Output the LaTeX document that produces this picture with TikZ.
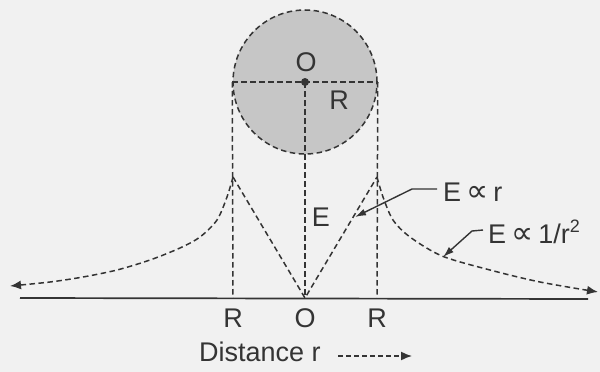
\documentclass[tikz,border=0pt]{standalone}
\usepackage{fontspec}
\setmainfont{Liberation Sans}
\newfontfamily\symfont{DejaVu Sans}
\usetikzlibrary{arrows.meta}
\definecolor{ink}{RGB}{52,52,52}
\definecolor{ballfill}{RGB}{198,198,198}
\definecolor{paper}{RGB}{241,241,241}
\begin{document}
\begin{tikzpicture}[x=1pt,y=-1pt,
  lbl/.style={font=\fontsize{27}{27}\selectfont, inner sep=0pt, text=ink},
  dsh/.style={draw=ink, line width=1.5pt, dash pattern=on 5.5pt off 3.5pt},
  fine/.style={draw=ink, line width=1.4pt},
  tipend/.style={-{Latex[length=11pt,width=9pt]}},
  leader/.style={fine, -{Latex[length=11pt,width=7pt]}}]
\useasboundingbox (0,0) rectangle (600,372);
\fill[paper] (0,0) rectangle (600,372);
% sphere
\node[circle, minimum size=144pt, inner sep=0pt, fill=ballfill, dsh] (ball) at (305,82) {};
\coordinate (O) at (305,82);
\coordinate (PL) at (233,177);
\coordinate (PR) at (377,177);
\coordinate (AO) at (305,298);
\coordinate (AL) at (233,298);
\coordinate (AR) at (377,298);
\coordinate (X0) at (20,298);
\coordinate (X1) at (588,299);
\draw[dsh] (ball.west) -- (ball.east);
\draw[dsh] (ball.west) -- (AL);
\draw[dsh] (ball.east) -- (AR);
\draw[dsh] (O) -- (AO);
\fill[ink] (O) circle (4pt);
% axis
\draw[ink, line width=1.7pt] (X0) -- (X1);
% E inside: linear part
\draw[dsh] (PL) -- (AO) -- (PR);
% outside: 1/r^2 curves
\draw[dsh, tipend] plot[smooth] coordinates {(233,177) (227,197) (217,220) (200,237) (180,248) (150,260) (117,270) (83,277) (50,282) (10,286)};
\draw[dsh, tipend] plot[smooth] coordinates {(377,177) (383,197) (393,220) (410,237) (442,256) (490,270) (540,282) (598,292)};
% labels
\node[lbl] (lO) at (306,62) {O};
\node[lbl] (lR) at (339,100) {R};
\node[lbl] (lE) at (321,217) {E};
\node[lbl, anchor=west] (Er) at (443,192) {E\hspace{5pt}{\symfont\fontsize{31}{31}\selectfont ∝}\hspace{5pt}r};
\node[lbl, anchor=west] (Ei) at (488,232) {E\hspace{5pt}{\symfont\fontsize{31}{31}\selectfont ∝}\hspace{5pt}1/r\raisebox{0.42em}{\fontsize{18}{18}\selectfont 2}};
\coordinate (k1) at (412,189);
\coordinate (t1) at (355,217);
\coordinate (k2) at (472,231);
\coordinate (t2) at (443,257);
\path (Er.west) ++(-6,-3) coordinate (s1);
\draw[leader] (s1) -- (k1) -- (t1);
\path (Ei.west) ++(-5,-2) coordinate (s2);
\draw[leader] (s2) -- (k2) -- (t2);
\node[lbl] (bR1) at (233,318) {R};
\node[lbl] (bO) at (305,318) {O};
\node[lbl] (bR2) at (377,318) {R};
\node[lbl, anchor=west] (dist) at (199,352) {Distance r};
\coordinate (da0) at (338,356);
\coordinate (da1) at (412,356);
\draw[ink, line width=1.5pt, dash pattern=on 5pt off 3pt, tipend] (da0) -- (da1);
\end{tikzpicture}
\end{document}
